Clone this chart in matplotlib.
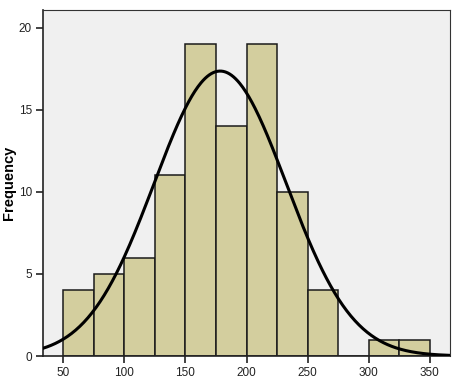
import numpy as np
import matplotlib
import matplotlib.pyplot as plt

matplotlib.use("Agg")

# histogram bins (left edges) and counts
bin_edges = [50, 75, 100, 125, 150, 175, 200, 225, 250, 275, 300, 325, 350]
counts = [4, 5, 6, 11, 19, 14, 19, 10, 4, 0, 1, 1]

# fitted normal curve parameters
curve_mean = 178.4
curve_sd = 54.0

x_ticks = [50, 100, 150, 200, 250, 300, 350]
y_ticks = [0, 5, 10, 15, 20]

plt.rcParams["font.family"] = ["Liberation Sans", "DejaVu Sans"]

fig = plt.figure(figsize=(4.59, 3.86), dpi=100)
ax = fig.add_axes([0.0937, 0.0777, 0.8863, 0.8963])
ax.set_facecolor("#F0F0F0")

widths = np.diff(bin_edges)
ax.bar(bin_edges[:-1], counts, width=widths, align="edge",
       color="#D3CE9E", edgecolor="#1a1a1a", linewidth=1.1, zorder=2)

n = sum(counts)
bw = widths[0]
xs = np.linspace(33.4, 366.4, 400)
ys = n * bw / (curve_sd * np.sqrt(2 * np.pi)) * np.exp(-0.5 * ((xs - curve_mean) / curve_sd) ** 2)
ax.plot(xs, ys, color="black", linewidth=2.2, zorder=3)

ax.set_xlim(33.4, 366.4)
ax.set_ylim(0, 21.08)
ax.set_xticks(x_ticks)
ax.set_yticks(y_ticks)
ax.tick_params(axis="both", direction="out", length=5, width=1.2,
               labelsize=8.5, colors="#222222", pad=3)

for side in ["top", "right"]:
    ax.spines[side].set_linewidth(0.8)
    ax.spines[side].set_color("#333333")
for side in ["left", "bottom"]:
    ax.spines[side].set_linewidth(1.2)
    ax.spines[side].set_color("#222222")

ax.set_ylabel("Frequency", fontsize=10.5, fontweight="bold")
ax.yaxis.set_label_coords(-0.066, 0.5)

fig.savefig("out.png", dpi=100)
